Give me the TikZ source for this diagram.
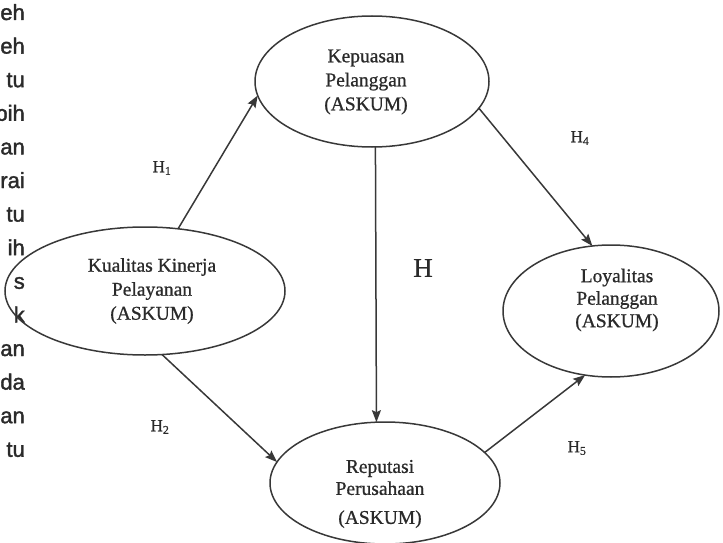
\documentclass[tikz,border=0pt]{standalone}
\usepackage{fontspec}
\setmainfont{Liberation Serif}[FakeBold=0.8]
\newfontfamily\fragfont{Liberation Sans}[FakeBold=1.6]
\usetikzlibrary{arrows.meta,shapes.geometric}
\definecolor{ink}{HTML}{383838}
\definecolor{txt}{HTML}{2A2A2A}
\begin{document}
\begin{tikzpicture}[x=1pt,y=-1pt,
  oval/.style={draw=ink, line width=1.5pt, ellipse, inner sep=0pt, outer sep=0pt},
  conn/.style={draw=ink, line width=1.5pt, -{Stealth[length=12pt,width=9pt,inset=2pt]}},
  lab/.style={text=txt, align=center, font=\fontsize{19.5}{24}\selectfont, inner sep=0pt},
  hlab/.style={text=txt, font=\fontsize{17}{20}\selectfont, inner sep=0pt},
  frag/.style={text=txt, font=\fragfont\fontsize{22}{26}\selectfont, inner sep=0pt}]
\useasboundingbox (0,0) rectangle (723,543);
\clip (0,0) rectangle (723,543);

% left-hand text fragments
\foreach \t [count=\i from 0] in {eh,eh,tu,bih,an,rai,tu,ih,s,k,an,da,an,tu}
  \node[frag, anchor=base east] (f\i) at (25, 20+33.6*\i) {\t};

% ellipses
\node[oval, minimum width=234pt, minimum height=131pt] (kep)  at (372,81.5) {};
\node[oval, minimum width=280pt, minimum height=128pt] (kual) at (145,291) {};
\node[oval, minimum width=216pt, minimum height=132pt] (loy)  at (611,311) {};
\node[oval, minimum width=230pt, minimum height=122pt] (rep)  at (385,483) {};

% ellipse texts
\node[lab] (tkep)  at (366,82)  {Kepuasan\\Pelanggan\\(ASKUM)};
\node[lab] (tkual) at (152,291) {Kualitas Kinerja\\Pelayanan\\(ASKUM)};
\node[lab, font=\fontsize{19.5}{22.5}\selectfont] (tloy) at (617,300) {Loyalitas\\Pelanggan\\(ASKUM)};
\node[lab, font=\fontsize{19.5}{22}\selectfont] (trep) at (380,494) {Reputasi\\Perusahaan\\[7pt](ASKUM)};

% connectors
\draw[conn] (kual.62.7) -- (kep.187);
\draw[conn] (kual.285) -- (rep.169);
\draw[conn] (kep.273) -- (rep.98.4);
\draw[conn] (kep.346) -- (loy.106);
\draw[conn] (rep.17) -- (loy.248);

% labels
\node[hlab] (h1) at (162,168) {H\textsubscript{1}};
\node[hlab] (h2) at (160,427) {H\textsubscript{2}};
\node[text=txt, font=\fontsize{27}{30}\selectfont, inner sep=0pt] (h3) at (423,268) {H};
\node[hlab] (h4) at (580,138) {H\textsubscript{4}};
\node[hlab] (h5) at (577,448) {H\textsubscript{5}};
\end{tikzpicture}
\end{document}
